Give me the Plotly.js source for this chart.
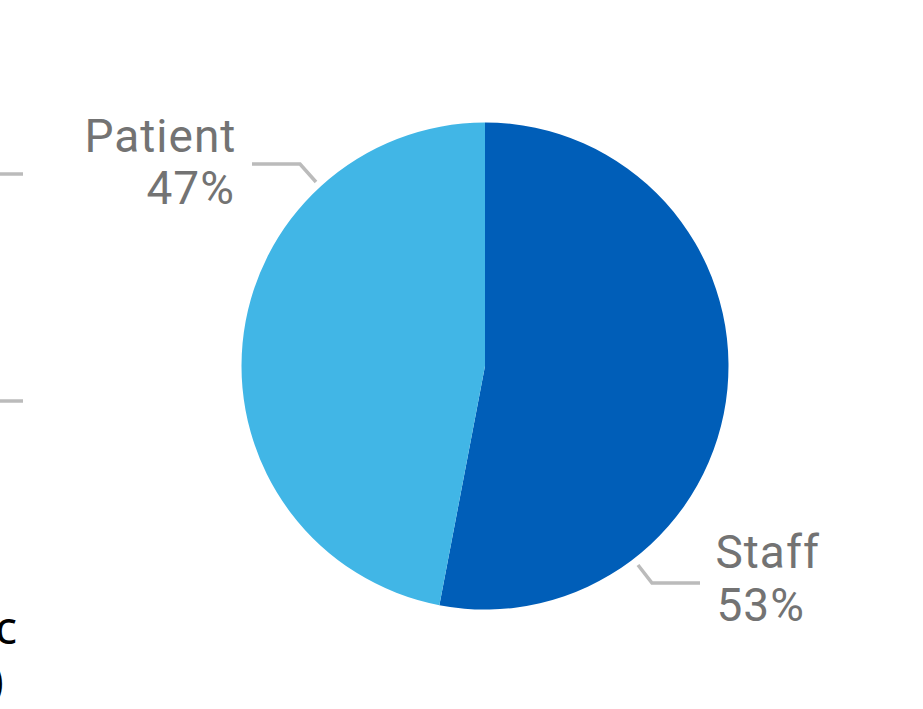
<!DOCTYPE html>
<html>
<head>
<meta charset="utf-8">
<script src="https://cdn.plot.ly/plotly-3.0.1.min.js"></script>
<style>
html,body{margin:0;padding:0;background:#fff;}
#chart{width:923px;height:709px;}
</style>
</head>
<body>
<div id="chart"></div>
<script>
const categories = ["Staff", "Patient"];
const values = [53, 47];
const colors = ["#005EB8", "#41B6E6"];

const W = 923, H = 709;
const px = x => x / W;
const py = y => 1 - y / H;

const total = values.reduce((a, b) => a + b, 0);
const pct = values.map(v => Math.round(v / total * 100) + "%");

const labelFont = {family: "Roboto, 'DejaVu Sans', sans-serif", size: 46, color: "#737373", weight: 400};
const lineColor = "#BBBBBB";

const annotations = [
  // Patient label (right-aligned, upper left)
  {text: categories[1], x: px(235), y: py(107), xanchor: "right", yanchor: "top"},
  {text: pct[1], x: px(235), y: py(159), xanchor: "right", yanchor: "top"},
  // Staff label (left-aligned, lower right)
  {text: categories[0], x: px(716), y: py(523), xanchor: "left", yanchor: "top"},
  {text: pct[0], x: px(716), y: py(576), xanchor: "left", yanchor: "top"}
].map(a => Object.assign({xref: "paper", yref: "paper", showarrow: false, font: labelFont}, a));

// cropped fragments of a neighbouring panel at the left edge
annotations.push(
  {text: "c", x: px(19), y: py(593), xanchor: "right", yanchor: "top", xref: "paper", yref: "paper", showarrow: false,
   font: {family: "'Noto Sans', sans-serif", size: 46, color: "#000"}},
  {text: ")", x: px(6), y: py(646), xanchor: "right", yanchor: "top", xref: "paper", yref: "paper", showarrow: false,
   font: {family: "'Noto Sans', sans-serif", size: 46, color: "#000"}}
);

const shapes = [
  {type: "path", path: `M ${px(252)} ${py(164)} L ${px(300)} ${py(164)} L ${px(316)} ${py(182)}`},
  {type: "path", path: `M ${px(638)} ${py(565)} L ${px(652)} ${py(583)} L ${px(700)} ${py(583)}`},
  {type: "line", x0: 0, x1: px(23), y0: py(174), y1: py(174)},
  {type: "line", x0: 0, x1: px(23), y0: py(401), y1: py(401)}
].map(s => Object.assign({xref: "paper", yref: "paper", line: {color: lineColor, width: 3.5}}, s));

const cx = 485, cy = 366, r = 243.5;
const data = [{
  type: "pie",
  labels: categories,
  values: values,
  sort: false,
  direction: "clockwise",
  rotation: 0,
  textinfo: "none",
  hoverinfo: "label+percent",
  marker: {colors: colors, line: {width: 0}},
  domain: {x: [px(cx - r), px(cx + r)], y: [py(cy + r), py(cy - r)]}
}];

const layout = {
  width: W, height: H,
  margin: {l: 0, r: 0, t: 0, b: 0},
  paper_bgcolor: "#fff",
  showlegend: false,
  annotations: annotations,
  shapes: shapes
};

Plotly.newPlot("chart", data, layout, {displayModeBar: false, staticPlot: true}).then(() => {
  document.querySelectorAll("#chart .annotation-text").forEach(t => {
    const s = t.textContent;
    if (categories.includes(s) || pct.includes(s)) t.style.letterSpacing = "1px";
  });
});
</script>
</body>
</html>
